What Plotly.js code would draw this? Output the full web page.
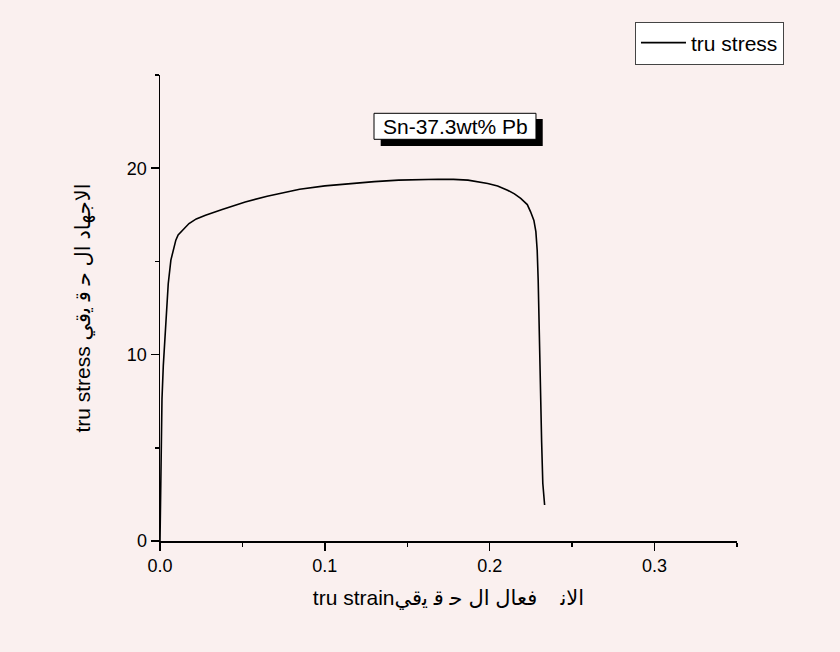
<!DOCTYPE html>
<html><head><meta charset="utf-8">
<script src="https://cdn.plot.ly/plotly-3.0.1.min.js"></script>
<style>html,body{margin:0;padding:0;background:#faf0ef}</style>
</head><body><div id="chart" style="width:840px;height:652px"></div>
<script>
const strain = [0, 0.0003, 0.0006, 0.0012, 0.0020, 0.0026, 0.0036, 0.0050, 0.0066, 0.0080,
  0.0096, 0.0110, 0.0126, 0.0150, 0.0176, 0.0220, 0.0276, 0.0377, 0.0517, 0.0650,
  0.0847, 0.1000, 0.1147, 0.1300, 0.1447, 0.1560, 0.1688, 0.1780, 0.1868, 0.1988,
  0.2048, 0.2108, 0.2150, 0.2188, 0.2228, 0.2248, 0.2268, 0.2280, 0.2288, 0.2294,
  0.2298, 0.2303, 0.2308, 0.2315, 0.2322, 0.2328, 0.2333];
const stress = [0, 2.0, 5.0, 7.6, 9.4, 10.2, 12.0, 13.8, 15.07, 15.6,
  16.14, 16.42, 16.58, 16.82, 17.03, 17.28, 17.48, 17.78, 18.19, 18.50,
  18.87, 19.05, 19.18, 19.28, 19.36, 19.39, 19.41, 19.40, 19.36, 19.18,
  19.05, 18.82, 18.62, 18.38, 18.05, 17.66, 17.2, 16.6, 15.6, 14.0,
  12.0, 9.8, 7.56, 5.3, 3.1, 2.3, 1.93];
const seriesName = 'tru stress';
const xTickVals = [0, 0.1, 0.2, 0.3];
const xTickText = ['0.0', '0.1', '0.2', '0.3'];
const yTickVals = [0, 10, 20];
const yTickText = ['0', '10', '20'];
const NB = '\u00A0';
const xTitleText = 'tru strain' + 'الا\uFEE7' + NB+NB+NB+NB + 'فعال' + ' ' + 'ال' + ' ' + '\uFEA3' + ' ' + '\uFED7' + ' ' + '\uFEF3' + 'قي';
const yTitleText = 'tru stress ' + 'الاجهاد' + ' ' + 'ال' + ' ' + '\uFEA3' + ' ' + '\uFED7' + ' ' + '\uFEF3' + 'قي';
const noteText = 'Sn-37.3wt% Pb';

const FONT = 'Arial, "Liberation Sans", "DejaVu Sans", sans-serif';
const BG = '#faf0ef';

const trace = {
  x: strain, y: stress, type: 'scatter', mode: 'lines', name: seriesName,
  line: {color: '#000000', width: 1.6}
};

const axisCommon = {
  showgrid: false, zeroline: false, showline: true, linecolor: '#000', linewidth: 1.5,
  ticks: 'outside', ticklen: 8, tickwidth: 1.5, tickcolor: '#000',
  tickfont: {family: FONT, size: 18, color: '#000'},
  mirror: false
};

const layout = {
  width: 840, height: 652,
  paper_bgcolor: BG, plot_bgcolor: BG,
  margin: {l: 160, r: 103, t: 75, b: 111},
  font: {family: FONT, color: '#000'},
  xaxis: Object.assign({}, axisCommon, {
    range: [0, 0.35], tickmode: 'array', tickvals: xTickVals, ticktext: xTickText,
    minor: {dtick: 0.05, ticks: 'outside', ticklen: 4, tickwidth: 1.5, tickcolor: '#000', tick0: 0},
    title: {text: xTitleText, font: {family: FONT, size: 21, color: '#000'}, standoff: 15}
  }),
  yaxis: Object.assign({}, axisCommon, {
    range: [0, 25], tickmode: 'array', tickvals: yTickVals, ticktext: yTickText,
    minor: {dtick: 5, ticks: 'outside', ticklen: 4, tickwidth: 1.5, tickcolor: '#000', tick0: 0},
    title: {text: yTitleText, font: {family: FONT, size: 21, color: '#000'}, standoff: 30}
  }),
  showlegend: true,
  legend: {
    x: 0.8232, y: 1.1148, xanchor: 'left', yanchor: 'top', itemwidth: 45,
    bgcolor: '#ffffff', bordercolor: '#444', borderwidth: 1,
    font: {family: FONT, size: 21, color: '#000'}
  },
  shapes: [
    {type: 'rect', xref: 'paper', yref: 'paper', x0: 0.3825, x1: 0.6633, y0: 0.8476, y1: 0.9056,
     fillcolor: '#000', line: {width: 0}, layer: 'above'},
    {type: 'rect', xref: 'paper', yref: 'paper', x0: 0.3709, x1: 0.6516, y0: 0.862, y1: 0.9178,
     fillcolor: '#fff', line: {width: 1, color: '#000'}, layer: 'above'}
  ],
  annotations: [
    {text: noteText, xref: 'paper', yref: 'paper', x: 0.5113, y: 0.890,
     xanchor: 'center', yanchor: 'middle', showarrow: false,
     font: {family: FONT, size: 21, color: '#000'}}
  ]
};

Plotly.newPlot('chart', [trace], layout, {displayModeBar: false, staticPlot: true});
</script>
</body></html>
